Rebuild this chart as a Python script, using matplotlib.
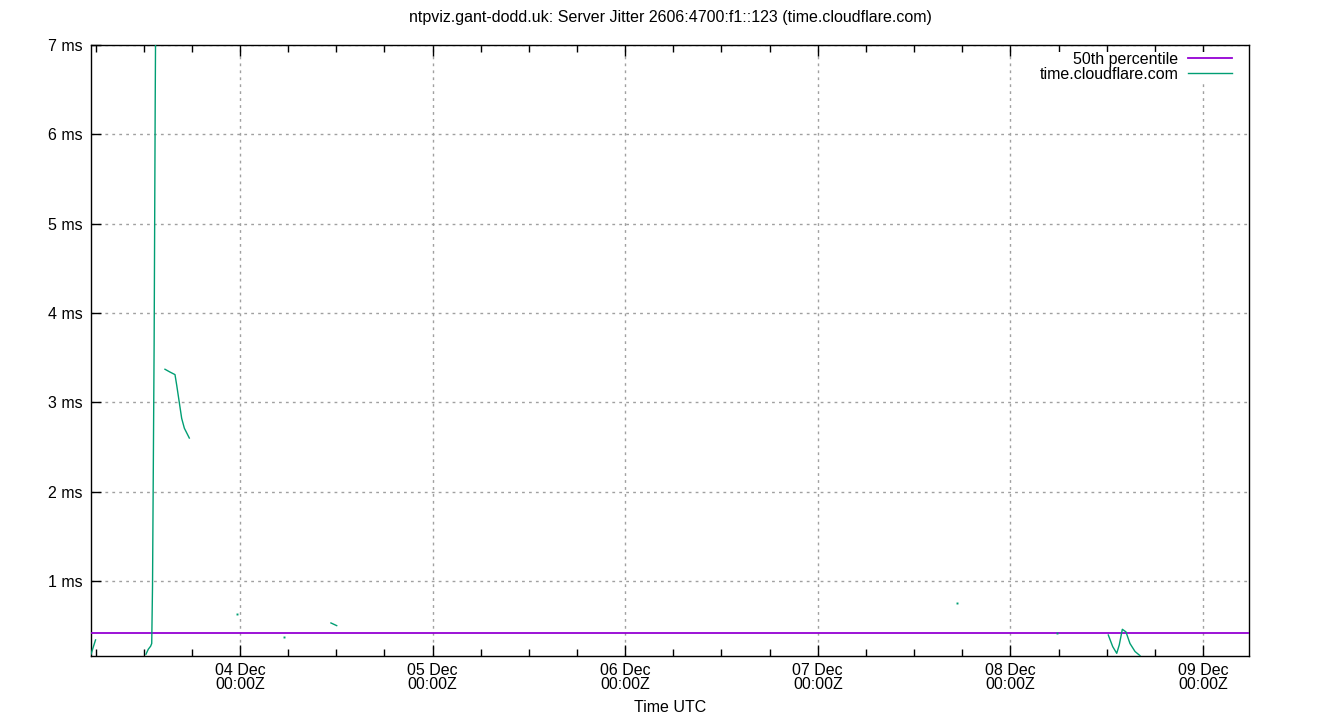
import matplotlib
matplotlib.use('Agg')
import matplotlib.pyplot as plt
import matplotlib.dates as mdates
from matplotlib.ticker import FuncFormatter, FixedLocator
import numpy as np
import pandas as pd

plt.rcParams['font.family'] = ['Liberation Sans', 'DejaVu Sans']

# --- data (jitter in ms, NaN = gap) ---
times = [
    '2023-12-03 05:26', '2023-12-03 06:00', None,
    '2023-12-03 12:17', '2023-12-03 12:34', '2023-12-03 12:52', '2023-12-03 13:00',
    '2023-12-03 13:06', '2023-12-03 13:12', '2023-12-03 13:18', '2023-12-03 13:26',
    '2023-12-03 13:32', None,
    '2023-12-03 14:39', '2023-12-03 15:15', '2023-12-03 15:54', '2023-12-03 16:07',
    '2023-12-03 16:26', '2023-12-03 16:44', '2023-12-03 17:04', '2023-12-03 17:41', None,
    '2023-12-03 23:38', None,
    '2023-12-04 05:29', None,
    '2023-12-04 11:20', '2023-12-04 12:03', None,
    '2023-12-07 17:21', None,
    '2023-12-08 05:48', None,
    '2023-12-08 12:12', '2023-12-08 12:45', '2023-12-08 13:15', '2023-12-08 13:34',
    '2023-12-08 13:57', '2023-12-08 14:24', '2023-12-08 14:54', '2023-12-08 15:32',
    '2023-12-08 16:09',
]
jitter = [
    0.18, 0.34, np.nan,
    0.18, 0.235, 0.27, 0.30,
    0.95, 2.30, 3.65, 6.35,
    8.0, np.nan,
    3.37, 3.34, 3.31, 3.19,
    3.00, 2.82, 2.71, 2.60, np.nan,
    0.63, np.nan,
    0.373, np.nan,
    0.53, 0.50, np.nan,
    0.754, np.nan,
    0.418, np.nan,
    0.395, 0.265, 0.19, 0.284,
    0.459, 0.43, 0.30, 0.21,
    0.164,
]
p50 = 0.418
day_ticks = ['2023-12-04', '2023-12-05', '2023-12-06', '2023-12-07', '2023-12-08', '2023-12-09']
y_ticks = [1, 2, 3, 4, 5, 6, 7]

# fill gap timestamps so the NaN breaks the line
t = []
for i, s in enumerate(times):
    if s is None:
        t.append(pd.Timestamp(times[i - 1]) + pd.Timedelta(minutes=1))
    else:
        t.append(pd.Timestamp(s))
t = pd.to_datetime(t)
y = np.array(jitter)

# points with no neighbour on either side would vanish with plain lines
prev_nan = np.r_[True, np.isnan(y[:-1])]
next_nan = np.r_[np.isnan(y[1:]), True]
lonely = prev_nan & next_nan & ~np.isnan(y)

fig = plt.figure(figsize=(13.4, 7.2), dpi=100)
ax = fig.add_axes([91 / 1340, 64 / 720, 1158 / 1340, 611 / 720])

green = '#009e73'
purple = '#9400d3'
fs = 11.5

ax.axhline(p50, color=purple, lw=1.3, label='50th percentile', zorder=3)
ax.plot(t, y, color=green, lw=1.0, label='time.cloudflare.com', zorder=4)
ax.plot(t[lonely], y[lonely], color=green, ls='none', marker='s', ms=1.4, mew=0, zorder=4)

ax.set_xlim(pd.Timestamp('2023-12-03 05:26'), pd.Timestamp('2023-12-09 05:44'))
ax.set_ylim(0.16, 7.0)

ax.xaxis.set_major_locator(FixedLocator(mdates.date2num(pd.to_datetime(day_ticks))))
ax.xaxis.set_major_formatter(FuncFormatter(
    lambda v, p: mdates.num2date(v).strftime('%d %b\n%H:%MZ')))
ax.xaxis.set_minor_locator(mdates.HourLocator(byhour=[0, 6, 12, 18]))
ax.yaxis.set_major_locator(FixedLocator(y_ticks))
ax.yaxis.set_major_formatter(FuncFormatter(lambda v, p: '%d ms' % v))

ax.tick_params(axis='x', which='major', direction='in', length=8, width=1,
               top=True, labelsize=fs, pad=5)
ax.tick_params(axis='x', which='minor', direction='in', length=5, width=1, top=True)
ax.tick_params(axis='y', which='major', direction='in', length=7, width=1,
               right=False, labelsize=fs, pad=6)
for lbl in ax.get_xticklabels():
    lbl.set_linespacing(0.9)

ax.grid(True, which='major', color='#a0a0a0', lw=1, ls=(0, (2, 3)))
ax.set_axisbelow(True)
for sp in ax.spines.values():
    sp.set_linewidth(1)

ax.set_xlabel('Time UTC', fontsize=fs, labelpad=6)
fig.suptitle('ntpviz.gant-dodd.uk: Server Jitter 2606:4700:f1::123 (time.cloudflare.com)',
             fontsize=fs, y=0.986)

# opaque key box sits just under the mirrored top ticks, like gnuplot's
leg = ax.legend(loc='upper right', bbox_to_anchor=(0.9853, 0.9885),
                markerfirst=False, frameon=True, fancybox=False,
                edgecolor='none', facecolor='white', framealpha=1, fontsize=fs,
                handlelength=2.75, handletextpad=0.6, labelspacing=0.0,
                borderaxespad=0.0, borderpad=0.0)
leg.set_zorder(5)

fig.savefig('out.png', dpi=100)
